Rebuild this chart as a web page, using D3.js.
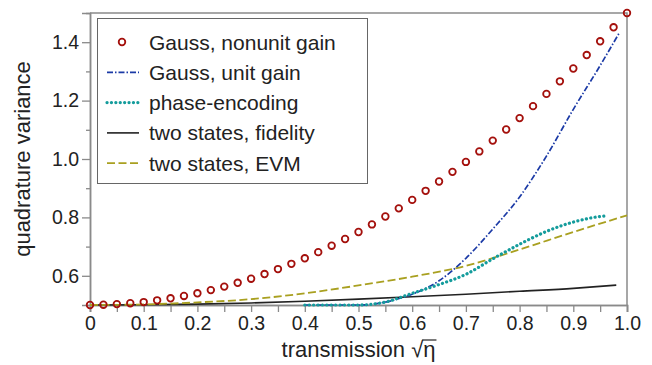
<!DOCTYPE html>
<html>
<head>
<meta charset="utf-8">
<script src="https://cdn.jsdelivr.net/npm/d3@7"></script>
<style>
  body { margin: 0; background: #fff; }
  svg { display: block; font-family: "Liberation Sans", Arial, sans-serif; }
</style>
</head>
<body>
<div id="chart"></div>
<script>
// readings taken off the reference figure
const nonunitX = [0, 0.025, 0.05, 0.075, 0.1, 0.125, 0.15, 0.175, 0.2, 0.225, 0.25, 0.275, 0.3, 0.325, 0.35, 0.375, 0.4, 0.425, 0.45, 0.475, 0.5,
    0.525, 0.55, 0.575, 0.6, 0.625, 0.65, 0.675, 0.7, 0.725, 0.75, 0.775, 0.8, 0.825, 0.85, 0.875, 0.9, 0.925, 0.95, 0.975, 1.0];
const nonunitV = [0.5, 0.501, 0.503, 0.506, 0.51, 0.516, 0.523, 0.531, 0.54, 0.551, 0.563, 0.576, 0.59, 0.606, 0.623, 0.641, 0.66, 0.681, 0.703, 0.726, 0.75,
    0.776, 0.803, 0.831, 0.86, 0.891, 0.923, 0.956, 0.99, 1.026, 1.063, 1.101, 1.14, 1.181, 1.223, 1.266, 1.31, 1.356, 1.403, 1.451, 1.5];

const unitX = [0.4, 0.45, 0.5, 0.55, 0.6, 0.65, 0.7, 0.75, 0.8, 0.85, 0.9, 0.95, 0.985];
const unitV = [0.5, 0.5, 0.5, 0.51, 0.537, 0.583, 0.66, 0.76, 0.87, 1.01, 1.17, 1.32, 1.43];

const phaseX = [0.4, 0.45, 0.5, 0.55, 0.6, 0.65, 0.7, 0.75, 0.8, 0.85, 0.9, 0.95, 0.96];
const phaseV = [0.5, 0.5, 0.5, 0.51, 0.54, 0.57, 0.605, 0.658, 0.708, 0.752, 0.784, 0.803, 0.805];

const fidX = [0, 0.1, 0.2, 0.3, 0.4, 0.5, 0.6, 0.7, 0.8, 0.9, 0.98];
const fidV = [0.5, 0.501, 0.503, 0.507, 0.513, 0.52, 0.528, 0.537, 0.547, 0.557, 0.568];

const evmX = [0, 0.1, 0.2, 0.3, 0.4, 0.5, 0.6, 0.7, 0.8, 0.9, 1.0];
const evmV = [0.5, 0.502, 0.509, 0.52, 0.54, 0.567, 0.597, 0.634, 0.69, 0.75, 0.807];

const xTicks = [0, 0.1, 0.2, 0.3, 0.4, 0.5, 0.6, 0.7, 0.8, 0.9, 1.0];
const xMinor = [0.05, 0.15, 0.25, 0.35, 0.45, 0.55, 0.65, 0.75, 0.85, 0.95];
const yTicks = [0.6, 0.8, 1.0, 1.2, 1.4];
const yMinor = [0.7, 0.9, 1.1, 1.3];

const legendLabels = ["Gauss, nonunit gain", "Gauss, unit gain", "phase-encoding", "two states, fidelity", "two states, EVM"];

const width = 652, height = 365;
const margin = { top: 13, right: 25, bottom: 60, left: 90 };

const svg = d3.select("#chart").append("svg")
    .attr("width", width)
    .attr("height", height);

const x = d3.scaleLinear().domain([0, 1]).range([margin.left, width - margin.right]);
const y = d3.scaleLinear().domain([0.5, 1.5]).range([height - margin.bottom, margin.top]);

const axisColor = "#8a8a8a";

// frame top/right
svg.append("path")
    .attr("d", `M${x(0)},${y(1.5)}H${x(1)}V${y(0.5)}`)
    .attr("fill", "none")
    .attr("stroke", axisColor)
    .attr("stroke-width", 1.5);

// x axis
const gx = svg.append("g").attr("transform", `translate(0,${y(0.5)})`);
gx.call(d3.axisBottom(x).tickValues(xMinor).tickSize(7).tickFormat(""));
gx.call(g => g.append("g").call(d3.axisBottom(x).tickValues(xTicks).tickSize(7).tickPadding(4)
    .tickFormat(d => d === 0 ? "0" : d3.format(".1f")(d))));
gx.selectAll(".domain").attr("stroke", axisColor).attr("stroke-width", 1.5);
gx.selectAll(".tick line").attr("stroke", axisColor).attr("stroke-width", 1.3);
gx.selectAll(".tick text").attr("font-size", 19.5).attr("fill", "#222").attr("font-family", null);

// y axis
const gy = svg.append("g").attr("transform", `translate(${x(0)},0)`);
gy.call(d3.axisLeft(y).tickValues(yMinor).tickSize(4).tickFormat(""));
gy.call(g => g.append("g").call(d3.axisLeft(y).tickValues(yTicks).tickSize(8).tickPadding(3)
    .tickFormat(d3.format(".1f"))));
gy.selectAll(".domain").attr("stroke", axisColor).attr("stroke-width", 1.5);
gy.selectAll(".tick line").attr("stroke", axisColor).attr("stroke-width", 1.3);
gy.selectAll(".tick text").attr("font-size", 19.5).attr("fill", "#222").attr("font-family", null);

// axis titles
svg.append("text")
    .attr("transform", `translate(30,${(y(0.5) + y(1.5)) / 2}) rotate(-90)`)
    .attr("text-anchor", "middle")
    .attr("font-size", 22)
    .attr("fill", "#222")
    .text("quadrature variance");

const xt = svg.append("text")
    .attr("x", x(0.5))
    .attr("y", 357)
    .attr("text-anchor", "middle")
    .attr("font-size", 22)
    .attr("fill", "#222");
xt.append("tspan").text("transmission ");
xt.append("tspan").text("\u221A");
xt.append("tspan").text("\u03B7");
// vinculum of the square root over eta
const n = xt.text().length;
const end = xt.node().getEndPositionOfChar(n - 1);
const rootEnd = xt.node().getEndPositionOfChar(n - 2);
svg.append("line")
    .attr("x1", rootEnd.x - 1).attr("x2", end.x + 1)
    .attr("y1", 357 - 17).attr("y2", 357 - 17)
    .attr("stroke", "#222").attr("stroke-width", 1.2);

const zip = (xs, vs) => xs.map((d, i) => [d, vs[i]]);
const line = d3.line().x(d => x(d[0])).y(d => y(d[1])).curve(d3.curveMonotoneX);

const styles = [
    { color: "#a4100c" },
    { color: "#1b3aa6", width: 1.7, dash: "6 2 1.5 2" },
    { color: "#149c9c", width: 3.2, dash: "0.1 4.3", cap: "round" },
    { color: "#222222", width: 1.6, dash: null },
    { color: "#a9a020", width: 1.8, dash: "8 3.5" }
];

const series = [null, zip(unitX, unitV), zip(phaseX, phaseV), zip(fidX, fidV), zip(evmX, evmV)];

// draw the lines
[3, 4, 1, 2].forEach(k => {
    svg.append("path")
        .datum(series[k])
        .attr("fill", "none")
        .attr("stroke", styles[k].color)
        .attr("stroke-width", styles[k].width)
        .attr("stroke-dasharray", styles[k].dash)
        .attr("stroke-linecap", styles[k].cap || "butt")
        .attr("d", line);
});

// circles
svg.append("g")
    .selectAll("circle")
    .data(zip(nonunitX, nonunitV))
    .join("circle")
    .attr("cx", d => x(d[0]))
    .attr("cy", d => y(d[1]))
    .attr("r", 3.3)
    .attr("fill", "none")
    .attr("stroke", styles[0].color)
    .attr("stroke-width", 1.8);

// legend
const lg = svg.append("g");
lg.append("rect")
    .attr("x", 97.5).attr("y", 18.5)
    .attr("width", 270).attr("height", 165)
    .attr("fill", "#fff")
    .attr("stroke", "#666")
    .attr("stroke-width", 1);

legendLabels.forEach((label, i) => {
    const cy = 42 + i * 30.3;
    if (i === 0) {
        lg.append("circle").attr("cx", 122).attr("cy", cy).attr("r", 3.3)
            .attr("fill", "none").attr("stroke", styles[0].color).attr("stroke-width", 1.8);
    } else {
        lg.append("line")
            .attr("x1", 107).attr("x2", 139).attr("y1", cy).attr("y2", cy)
            .attr("stroke", styles[i].color)
            .attr("stroke-width", styles[i].width)
            .attr("stroke-dasharray", styles[i].dash)
            .attr("stroke-linecap", styles[i].cap || "butt");
    }
    lg.append("text")
        .attr("x", 149).attr("y", cy + 7.5)
        .attr("font-size", 21)
        .attr("fill", "#222")
        .text(label);
});
</script>
</body>
</html>
